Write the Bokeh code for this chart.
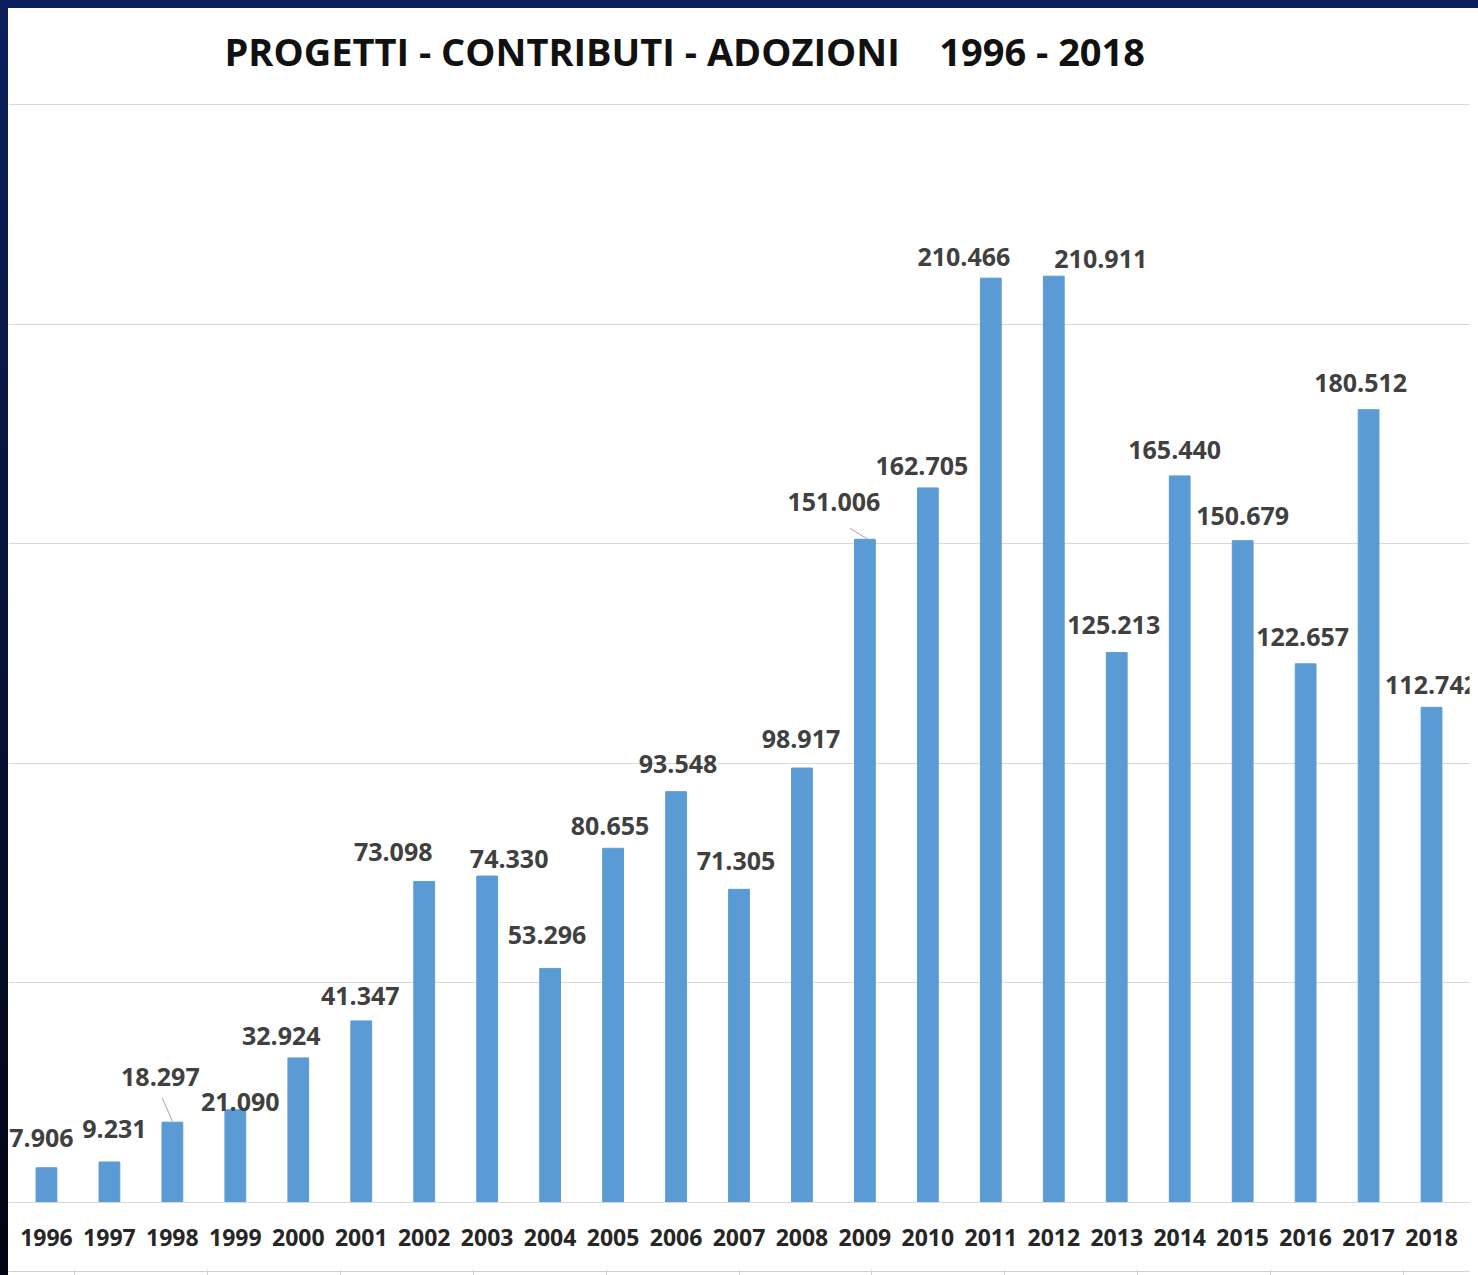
from bokeh.plotting import figure
from bokeh.models import (ColumnDataSource, LabelSet, SingleIntervalTicker, Range1d,
                          FactorRange, CategoricalAxis)
from bokeh.core.properties import value
from bokeh.embed import file_html
from bokeh.resources import INLINE

# ---------------- data ----------------
years = ["1996", "1997", "1998", "1999", "2000", "2001", "2002", "2003", "2004", "2005",
         "2006", "2007", "2008", "2009", "2010", "2011", "2012", "2013", "2014", "2015",
         "2016", "2017", "2018"]
values = [7906, 9231, 18297, 21090, 32924, 41347, 73098, 74330, 53296, 80655,
          93548, 71305, 98917, 151006, 162705, 210466, 210911, 125213, 165440, 150679,
          122657, 180512, 112742]
title_text = "PROGETTI - CONTRIBUTI - ADOZIONI\u00a0\u00a0\u00a0\u00a01996 - 2018"

# label nudges (screen pixels) as placed in the original
label_dx = [-5, 5, -12, 5, -17, -1, -31, 22, -3, -3, 2, -3, -1, -31, -6, -27, 47, -3, -5, 0, -3, -8, 0]
label_dy = [30, 33, 45, 8, 22, 25, 29, 17, 33, 22, 28, 28, 29, 37, 22, 21, 17, 28, 26, 25, 27, 27, 22]

# ---------------- layout ----------------
W, H = 1470, 1267
FRAME_TOP, FRAME_BOTTOM = 80, 1193
GRID_STEP_PX = 219.4
Y_END = (FRAME_BOTTOM - FRAME_TOP) / GRID_STEP_PX * 50000
px_per_unit = GRID_STEP_PX / 50000

labels = [f"{v:,}".replace(",", ".") for v in values]
src = ColumnDataSource(dict(x=years, top=values, label=labels, dx=label_dx, dy=label_dy))

xr = FactorRange(factors=years, range_padding=0.103, range_padding_units="absolute")
p = figure(x_range=xr, y_range=Range1d(0, Y_END), width=W, height=H,
           output_backend="svg", toolbar_location=None, tools="",
           min_border_left=0, min_border_right=9, min_border_top=FRAME_TOP,
           min_border_bottom=0,
           background_fill_color="white", border_fill_color="white")
p.outline_line_color = None

p.vbar(x="x", top="top", width=0.33, color="#5B9BD5", source=src)

# leader lines for the two displaced labels
lead_x0 = [(years[2], -0.16), (years[13], -0.24)]
lead_x1 = [(years[2], 0.0), (years[13], 0.05)]
lead_y0 = [values[2] + 24 / px_per_unit, values[13] + 11 / px_per_unit]
lead_y1 = [values[2] + 1 / px_per_unit, values[13] + 0 / px_per_unit]
p.segment(x0=lead_x0, y0=lead_y0, x1=lead_x1, y1=lead_y1, line_color="#a6a6a6", line_width=1)

p.add_layout(LabelSet(x="x", y="top", text="label", source=src, x_offset="dx", y_offset="dy",
                      text_align="center", text_baseline="middle",
                      text_font=value("Open Sans"), text_font_style="bold",
                      text_font_size="25px", text_color="#404040"))

# title
p.title.text = title_text
p.title.align = "left"
p.title.offset = 216
p.title.standoff = 23
p.title.text_font = "Open Sans"
p.title.text_font_style = "bold"
p.title.text_font_size = "38px"
p.title.text_color = "#111111"

# axes / grid
p.yaxis.visible = False
p.yaxis.ticker = SingleIntervalTicker(interval=50000)
p.ygrid.ticker = SingleIntervalTicker(interval=50000)
p.ygrid.grid_line_color = "#d9d9d9"
p.xgrid.visible = False

ax = p.xaxis[0]
ax.axis_line_color = "#d9d9d9"
ax.major_tick_line_color = None
ax.minor_tick_line_color = None
ax.major_label_standoff = 20
ax.major_label_text_font = "Open Sans"
ax.major_label_text_font_style = "bold"
ax.major_label_text_font_size = "23px"
ax.major_label_text_color = "#262626"
ax.axis_label = " "
ax.axis_label_standoff = 6
ax.axis_label_text_font_size = "12px"

# faint line with small ticks at the bottom edge of the slide
deco_factors = ["d%d" % i for i in range(11)]
p.extra_x_ranges = {"deco": FactorRange(factors=deco_factors, range_padding=0)}
deco = CategoricalAxis(x_range_name="deco")
deco.axis_line_color = "#d0d0d0"
deco.major_tick_line_color = "#d0d0d0"
deco.major_tick_in = 2
deco.major_tick_out = 4
deco.minor_tick_line_color = None
deco.major_label_text_font_size = "1px"
deco.major_label_text_color = None
deco.major_label_standoff = 0
p.add_layout(deco, "below")

html = file_html(p, INLINE, title="Progetti - Contributi - Adozioni")
style = ("<style>html,body{margin:0 !important;padding:0 !important;overflow:hidden !important;}"
         "body{padding:8px 0 0 8px !important;height:1275px !important;box-sizing:border-box !important;"
         "background:linear-gradient(#0b1f5e,#020611) 0 0/8px 100% no-repeat,"
         "linear-gradient(#0b1f5e,#0b1f5e) 0 0/100% 8px no-repeat,#ffffff !important;}</style>")
html = html.replace("</head>", style + "</head>")
open("out.html", "w").write(html)
